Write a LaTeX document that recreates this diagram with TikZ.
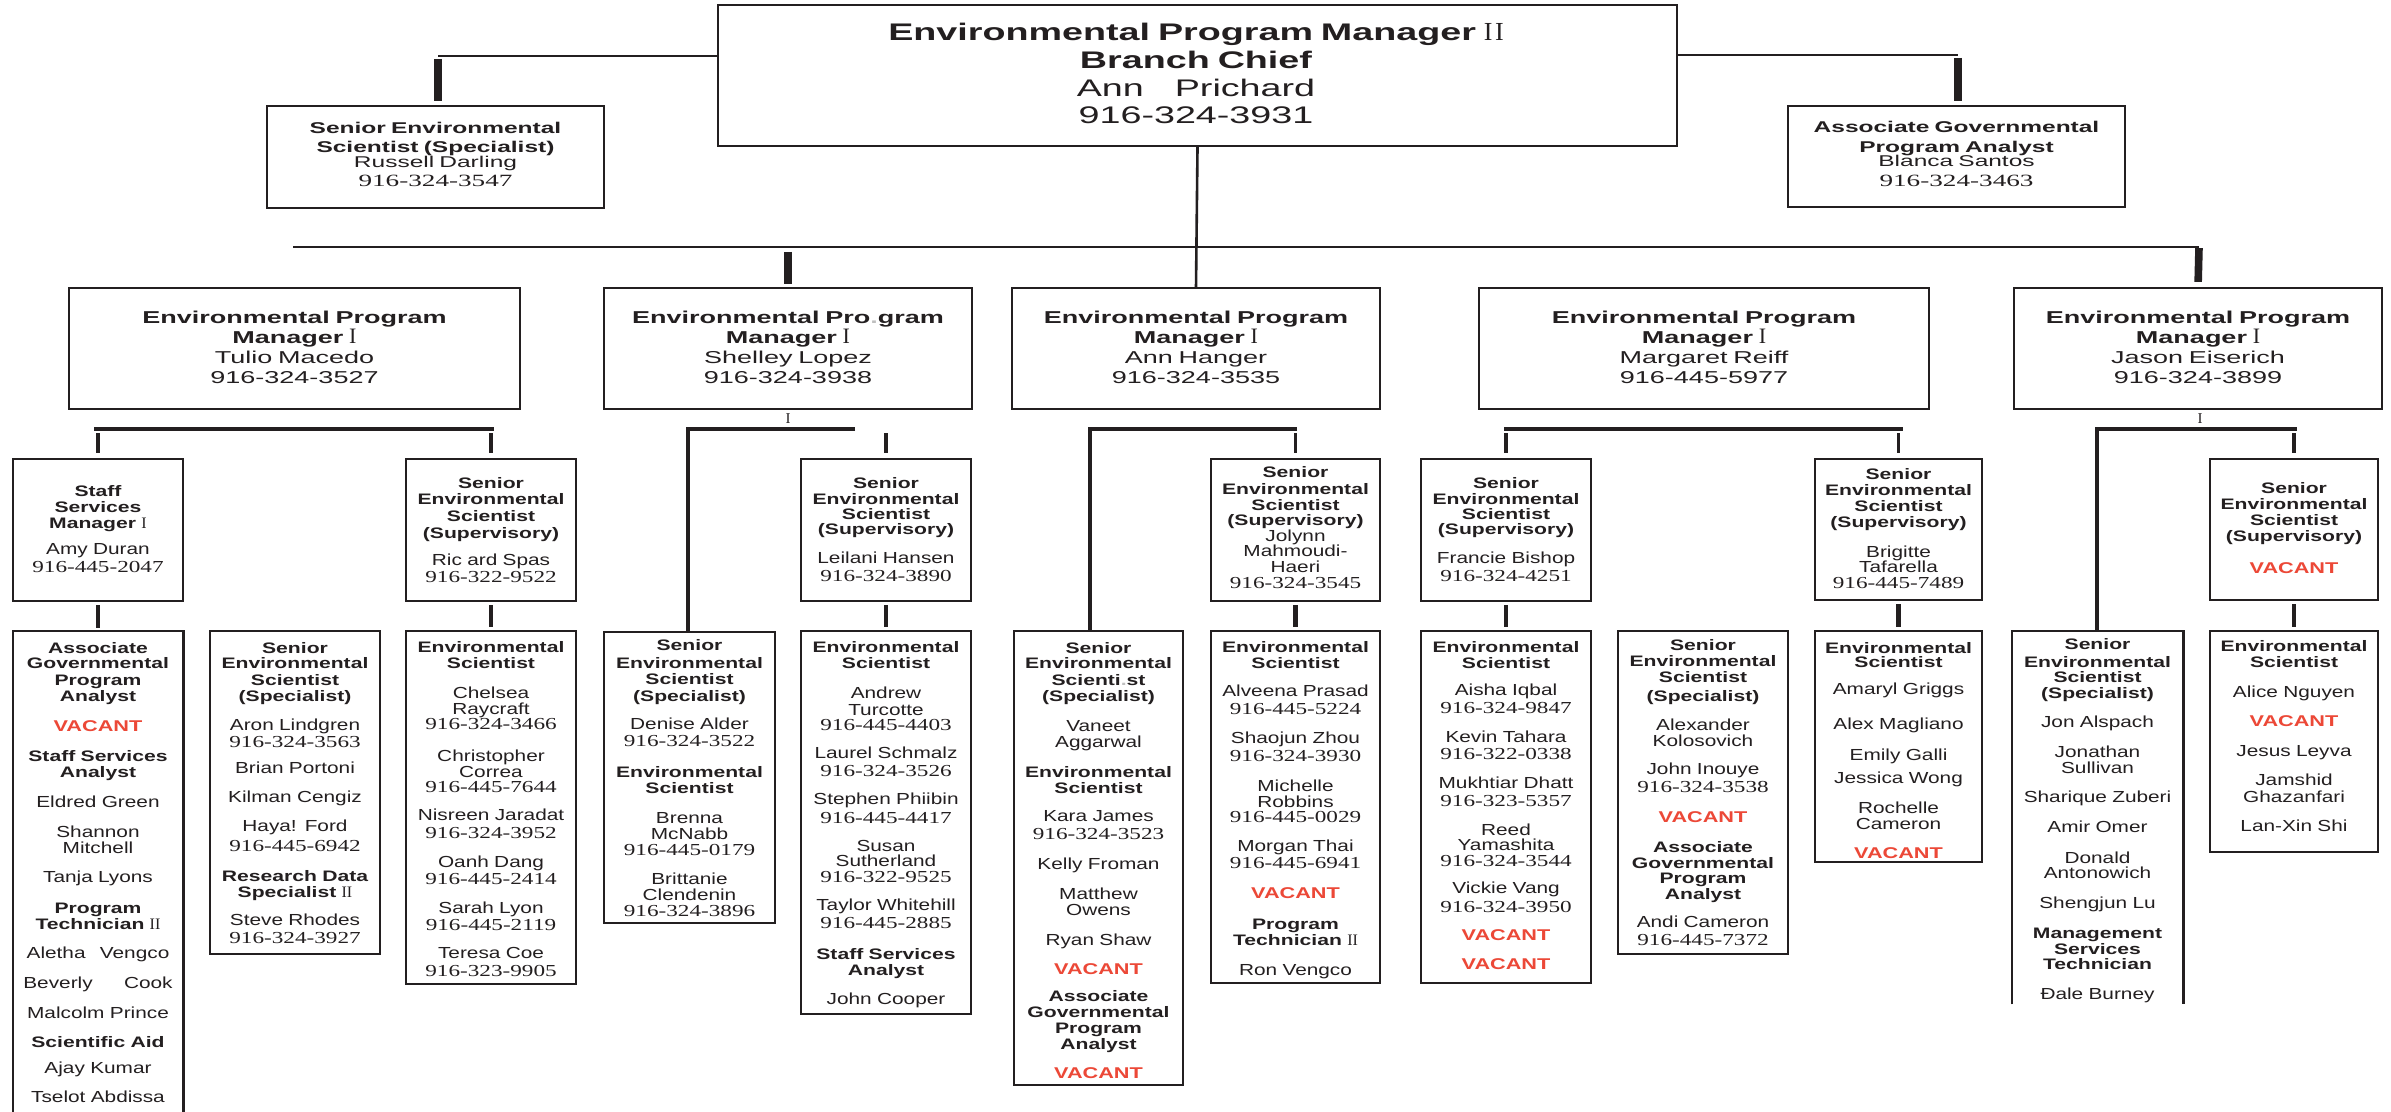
\documentclass[tikz,border=0pt]{standalone}
\usepackage{fontspec}
\setmainfont{Liberation Sans}
\newfontfamily\topsans[FakeStretch=1.57]{Liberation Sans}
\newfontfamily\lowsans[UprightFeatures={FakeStretch=1.30},BoldFeatures={FakeStretch=1.39}]{Liberation Sans}
\newfontfamily\lowserif[FakeStretch=1.38]{Liberation Serif}
\newfontfamily\topserif[FakeStretch=1.58]{Liberation Serif}
\newfontfamily\romfont{Liberation Serif}
\usetikzlibrary{fit}
\definecolor{ink}{RGB}{35,31,32}
\definecolor{vacred}{RGB}{236,72,55}
\newcommand\Ti[1]{{\lowsans\bfseries\fontsize{7.6}{8}\selectfont #1}}
\newcommand\Nm[1]{{\lowsans\fontsize{8}{8}\selectfont #1}}
\newcommand\Ph[1]{{\lowserif\fontsize{8.4}{8}\selectfont #1}}
\newcommand\Rm[1]{{\romfont\fontsize{8}{8}\selectfont #1}}
\newcommand\Vac{{\lowsans\bfseries\fontsize{7.8}{8}\selectfont\color{vacred}VACANT}}
\newcommand\MgrI{{\romfont\fontsize{11}{10}\selectfont I}}
\tikzset{
  bx/.style={draw=ink, line width=1.1pt, inner sep=0pt},
  openbx/.style={draw=none, inner sep=0pt},
  boxline/.style={draw=ink, line width=1.1pt, line join=miter},
  txt/.style={anchor=base, inner sep=0pt, align=center, text=ink, text width=160pt,
    execute at begin node={\lineskiplimit=-20pt}},
  lowfont/.style={font=\fontsize{8}{8}\selectfont},
  mgrfont/.style={font=\topsans\fontsize{8.6}{10}\selectfont, text width=300pt},
  conn/.style={draw=ink, line width=1.3pt},
  dropA/.style={draw=ink, line width=4pt},
  dropB/.style={draw=ink, line width=3.8pt},
  subh/.style={draw=ink, line width=1.6pt},
  longv/.style={draw=ink, line width=1.9pt, line join=miter},
  subdrop/.style={draw=ink, line width=1.8pt, shorten <=2pt, shorten >=2.5pt},
  lowdrop/.style={draw=ink, line width=2.3pt, shorten <=1.5pt, shorten >=1.5pt},
  romI/.style={anchor=base, inner sep=0pt, text=ink, font=\romfont\fontsize{7.5}{8}\selectfont}
}
\begin{document}
\begin{tikzpicture}[x=0.5pt, y=-0.5pt]
\fill[white] (0,0) rectangle (2391,1112);
\useasboundingbox (0,0) rectangle (2391,1112);

% ---------- boxes ----------
\node[bx, fit={(718,5) (1677,146)}] (top) {};
\node[bx, fit={(267,106) (604,208)}] (russ) {};
\node[bx, fit={(1788,106) (2125,207)}] (blanca) {};

\node[bx, fit={(69,288) (520,409)}] (tulio) {};
\node[bx, fit={(604,288) (972,409)}] (shelley) {};
\node[bx, fit={(1012,288) (1380,409)}] (hanger) {};
\node[bx, fit={(1479,288) (1929,409)}] (reiff) {};
\node[bx, fit={(2014,288) (2382,409)}] (jason) {};

\node[bx, fit={(13,459) (183,601)}] (amy) {};
\node[bx, fit={(406,459) (576,601)}] (ric) {};
\node[bx, fit={(801,459) (971,601)}] (leilani) {};
\node[bx, fit={(1211,459) (1380,601)}] (jolynn) {};
\node[bx, fit={(1421,459) (1591,601)}] (francie) {};
\node[bx, fit={(1815,459) (1982,600)}] (brigitte) {};
\node[bx, fit={(2210,459) (2378,600)}] (vacsup) {};

\node[openbx, fit={(13,631) (183,1112)}] (assoc) {};
\draw[boxline] (assoc.south west) -- (assoc.north west) -- (assoc.north east) -- (assoc.south east);
\node[bx, fit={(210,631) (380,954)}] (aron) {};
\node[bx, fit={(406,631) (576,984)}] (chelsea) {};
\node[bx, fit={(604,632) (775,923)}] (denise) {};
\node[bx, fit={(801,631) (971,1014)}] (andrew) {};
\node[bx, fit={(1014,631) (1183,1085)}] (vaneet) {};
\node[bx, fit={(1211,631) (1380,983)}] (alveena) {};
\node[bx, fit={(1421,631) (1591,983)}] (aisha) {};
\node[bx, fit={(1618,631) (1788,954)}] (alex) {};
\node[bx, fit={(1815,631) (1982,862)}] (amaryl) {};
\node[openbx, fit={(2012,631) (2183,1004)}] (jon) {};
\draw[boxline] (jon.south west) -- (jon.north west) -- (jon.north east) -- (jon.south east);
\node[bx, fit={(2210,631) (2378,852)}] (alice) {};

% ---------- connectors ----------
\coordinate (jL) at (438,56);
\coordinate (jR) at (1958,55);
\draw[conn] (top.west |- jL) -- (jL);
\draw[dropA, shorten <=1.5pt, shorten >=2pt] (jL) -- (jL |- russ.north);
\draw[conn] (top.east |- jR) -- (jR);
\draw[dropA, shorten <=1.5pt, shorten >=2pt] (jR) -- (jR |- blanca.north);

\coordinate (hL) at (293,247);
\coordinate (hR) at (2199,247);
\draw[conn] (hL) -- (hR);
\draw[conn] (top.south) -- (hanger.north);
\draw[dropB, shorten <=2.5pt, shorten >=1.5pt] (shelley.north |- hL) -- (shelley.north);
\draw[dropB, shorten <=0.5pt, shorten >=2.5pt] (hR) -- (jason.north);

% Tulio group
\coordinate (t1) at (94,429);
\coordinate (t2) at (494,429);
\draw[subh] (t1) -- (t2);
\draw[subdrop] (amy.north |- t1) -- (amy.north);
\draw[subdrop] (ric.north |- t1) -- (ric.north);
\draw[lowdrop] (amy.south) -- (assoc.north);
\draw[lowdrop] (ric.south) -- (chelsea.north);

% Shelley group
\node[romI] (shI) at (788,423) {I};
\coordinate (s1) at (688,429);
\coordinate (s2) at (855,429);
\draw[longv] (s2) -- (s1) -- (s1 |- denise.north);
\draw[subdrop] (leilani.north |- s1) -- (leilani.north);
\draw[lowdrop] (leilani.south) -- (andrew.north);

% Hanger group
\coordinate (a1) at (1090,429);
\coordinate (a2) at (1297,429);
\draw[longv] (a2) -- (a1) -- (a1 |- vaneet.north);
\draw[subdrop] (jolynn.north |- a1) -- (jolynn.north);
\draw[lowdrop] (jolynn.south) -- (alveena.north);

% Reiff group
\coordinate (r1) at (1504,429);
\coordinate (r2) at (1903,429);
\draw[subh] (r1) -- (r2);
\draw[subdrop] (francie.north |- r1) -- (francie.north);
\draw[subdrop] (brigitte.north |- r1) -- (brigitte.north);
\draw[lowdrop] (francie.south) -- (aisha.north);
\draw[lowdrop] (brigitte.south) -- (amaryl.north);

% Jason group
\node[romI] (jaI) at (2200,423) {I};
\coordinate (q1) at (2097,429);
\coordinate (q2) at (2297,429);
\draw[longv] (q2) -- (q1) -- (q1 |- jon.north);
\draw[subdrop] (vacsup.north |- q1) -- (vacsup.north);
\draw[lowdrop] (vacsup.south) -- (alice.north);

% ---------- texts: top levels ----------
\node[txt, text width=600pt, font=\topsans\fontsize{12}{14}\selectfont] (topT) at (1196,41)
 {\textbf{Environmental Program Manager}\hspace{4pt}{\romfont\fontsize{13}{14}\selectfont I\kern1.2pt I}\\
  \textbf{Branch Chief}\\
  Ann\hspace{11.5pt} Prichard\\[-0.5pt]
  916-324-3931};
\node[txt, text width=220pt, font=\topsans\fontsize{7.8}{8}\selectfont] (russT) at (435.5,134)
 {\textbf{Senior Environmental}\\[1.5pt] \textbf{Scientist (Specialist)}\\[-0.5pt] Russell Darling\\[1.5pt]
  {\topserif\fontsize{8.6}{8}\selectfont 916-324-3547}};
\node[txt, text width=220pt, font=\topsans\fontsize{7.8}{8}\selectfont] (blancaT) at (1956.5,133)
 {\textbf{Associate Governmental}\\[2pt] \textbf{Program Analyst}\\[-1pt] Blanca Santos\\[2pt]
  {\topserif\fontsize{8.6}{8}\selectfont 916-324-3463}};

\node[txt, mgrfont] (tulioT) at (294.5,324)
 {\textbf{Environmental Program}\\[-0.5pt] \textbf{Manager} \MgrI\\[0.5pt] Tulio Macedo\\ 916-324-3527};
\node[txt, mgrfont] (shelleyT) at (788,324)
 {\textbf{Environmental Pro{\color{lightgray}.}gram}\\[-0.5pt] \textbf{Manager} \MgrI\\[0.5pt] Shelley Lopez\\ 916-324-3938};
\node[txt, mgrfont] (hangerT) at (1196,324)
 {\textbf{Environmental Program}\\[-0.5pt] \textbf{Manager} \MgrI\\[0.5pt] Ann Hanger\\ 916-324-3535};
\node[txt, mgrfont] (reiffT) at (1704,324)
 {\textbf{Environmental Program}\\[-0.5pt] \textbf{Manager} \MgrI\\[0.5pt] Margaret Reiff\\ 916-445-5977};
\node[txt, mgrfont] (jasonT) at (2198,324)
 {\textbf{Environmental Program}\\[-0.5pt] \textbf{Manager} \MgrI\\[0.5pt] Jason Eiserich\\ 916-324-3899};

% ---------- texts: supervisors ----------
\node[txt, lowfont] (amyT) at (98,496)
 {\Ti{Staff}\\ \Ti{Services}\\ \Ti{Manager} \Rm{I}\\[5pt] \Nm{Amy Duran}\\[1pt] \Ph{916-445-2047}};
\node[txt, lowfont] (ricT) at (491,488)
 {\Ti{Senior}\\ \Ti{Environmental}\\[0.5pt] \Ti{Scientist}\\[0.5pt] \Ti{(Supervisory)}\\[5.5pt] \Nm{Ric ard Spas}\\[0.5pt] \Ph{916-322-9522}};
\node[txt, lowfont] (leilaniT) at (886,488)
 {\Ti{Senior}\\ \Ti{Environmental}\\[-0.5pt] \Ti{Scientist}\\[-0.5pt] \Ti{(Supervisory)}\\[6.5pt] \Nm{Leilani Hansen}\\[1pt] \Ph{916-324-3890}};
\node[txt, lowfont] (jolynnT) at (1295.5,477)
 {\Ti{Senior}\\[0.5pt] \Ti{Environmental}\\ \Ti{Scientist}\\[-0.5pt] \Ti{(Supervisory)}\\ \Nm{Jolynn}\\[-0.5pt] \Nm{Mahmoudi-}\\ \Nm{Haeri}\\ \Ph{916-324-3545}};
\node[txt, lowfont] (francieT) at (1506,488)
 {\Ti{Senior}\\ \Ti{Environmental}\\[-0.5pt] \Ti{Scientist}\\[-0.5pt] \Ti{(Supervisory)}\\[6.5pt] \Nm{Francie Bishop}\\[1pt] \Ph{916-324-4251}};
\node[txt, lowfont] (brigitteT) at (1898.5,479)
 {\Ti{Senior}\\ \Ti{Environmental}\\ \Ti{Scientist}\\ \Ti{(Supervisory)}\\[7pt] \Nm{Brigitte}\\[-0.5pt] \Nm{Tafarella}\\ \Ph{916-445-7489}};
\node[txt, lowfont] (vacsupT) at (2294,493)
 {\Ti{Senior}\\ \Ti{Environmental}\\ \Ti{Scientist}\\ \Ti{(Supervisory)}\\[8pt] \Vac};

% ---------- texts: staff ----------
\node[txt, lowfont] (assocT) at (98,653)
 {\Ti{Associate}\\[-0.5pt] \Ti{Governmental}\\[0.5pt] \Ti{Program}\\ \Ti{Analyst}\\[7pt] \Vac\\[7pt]
  \Ti{Staff Services}\\ \Ti{Analyst}\\[7pt] \Nm{Eldred Green}\\[7pt] \Nm{Shannon}\\ \Nm{Mitchell}\\[6.5pt]
  \Nm{Tanja Lyons}\\[7.5pt] \Ti{Program}\\ \Ti{Technician} \Rm{II}\\[6.5pt] \Nm{Aletha\hspace{4.5pt} Vengco}\\[7pt]
  \Nm{Beverly\hspace{13pt} Cook}\\[7pt] \Nm{Malcolm Prince}\\[6.5pt] \Ti{Scientific Aid}\\[5pt] \Nm{Ajay Kumar}\\[6.5pt]
  \Nm{Tselot Abdissa}};
\node[txt, lowfont] (aronT) at (295,653)
 {\Ti{Senior}\\[-0.5pt] \Ti{Environmental}\\[0.5pt] \Ti{Scientist}\\ \Ti{(Specialist)}\\[6.5pt] \Nm{Aron Lindgren}\\[0.5pt]
  \Ph{916-324-3563}\\[5pt] \Nm{Brian Portoni}\\[6.5pt] \Nm{Kilman Cengiz}\\[6.5pt] \Nm{Haya! Ford}\\[2pt]
  \Ph{916-445-6942}\\[7pt] \Ti{Research Data}\\ \Ti{Specialist} \Rm{II}\\[6pt] \Nm{Steve Rhodes}\\[1pt] \Ph{916-324-3927}};
\node[txt, lowfont] (chelseaT) at (491,652)
 {\Ti{Environmental}\\ \Ti{Scientist}\\[7pt] \Nm{Chelsea}\\ \Nm{Raycraft}\\[-0.5pt] \Ph{916-324-3466}\\[8pt]
  \Nm{Christopher}\\ \Nm{Correa}\\[-0.5pt] \Ph{916-445-7644}\\[6pt] \Nm{Nisreen Jaradat}\\[1pt] \Ph{916-324-3952}\\[6.5pt]
  \Nm{Oanh Dang}\\[0.5pt] \Ph{916-445-2414}\\[6.5pt] \Nm{Sarah Lyon}\\[0.5pt] \Ph{916-445-2119}\\[6pt]
  \Nm{Teresa Coe}\\[1pt] \Ph{916-323-9905}};
\node[txt, lowfont] (deniseT) at (689.5,650)
 {\Ti{Senior}\\[1pt] \Ti{Environmental}\\ \Ti{Scientist}\\[0.5pt] \Ti{(Specialist)}\\[6pt] \Nm{Denise Alder}\\[0.5pt]
  \Ph{916-324-3522}\\[7.5pt] \Ti{Environmental}\\ \Ti{Scientist}\\[7pt] \Nm{Brenna}\\ \Nm{McNabb}\\ \Ph{916-445-0179}\\[6.5pt]
  \Nm{Brittanie}\\ \Nm{Clendenin}\\ \Ph{916-324-3896}};
\node[txt, lowfont] (andrewT) at (886,652)
 {\Ti{Environmental}\\ \Ti{Scientist}\\[7pt] \Nm{Andrew}\\[0.5pt] \Nm{Turcotte}\\[-0.5pt] \Ph{916-445-4403}\\[6pt]
  \Nm{Laurel Schmalz}\\[1pt] \Ph{916-324-3526}\\[6pt] \Nm{Stephen Phiibin}\\[1.5pt] \Ph{916-445-4417}\\[6pt]
  \Nm{Susan}\\[-0.5pt] \Nm{Sutherland}\\ \Ph{916-322-9525}\\[6pt] \Nm{Taylor Whitehill}\\[1pt] \Ph{916-445-2885}\\[7.5pt]
  \Ti{Staff Services}\\ \Ti{Analyst}\\[6.5pt] \Nm{John Cooper}};
\node[txt, lowfont] (vaneetT) at (1098.5,653)
 {\Ti{Senior}\\[-0.5pt] \Ti{Environmental}\\[0.5pt] \Ti{Scienti{\color{lightgray}.}st}\\ \Ti{(Specialist)}\\[7pt]
  \Nm{Vaneet}\\ \Nm{Aggarwal}\\[7pt] \Ti{Environmental}\\ \Ti{Scientist}\\[6pt] \Nm{Kara James}\\[1pt] \Ph{916-324-3523}\\[7pt]
  \Nm{Kelly Froman}\\[7pt] \Nm{Matthew}\\ \Nm{Owens}\\[7pt] \Nm{Ryan Shaw}\\[6.5pt] \Vac\\[5.5pt]
  \Ti{Associate}\\ \Ti{Governmental}\\ \Ti{Program}\\ \Ti{Analyst}\\[6.5pt] \Vac};
\node[txt, lowfont] (alveenaT) at (1295.5,652)
 {\Ti{Environmental}\\ \Ti{Scientist}\\[6pt] \Nm{Alveena Prasad}\\[1pt] \Ph{916-445-5224}\\[6.5pt] \Nm{Shaojun Zhou}\\[1pt]
  \Ph{916-324-3930}\\[7pt] \Nm{Michelle}\\ \Nm{Robbins}\\[-0.5pt] \Ph{916-445-0029}\\[6.5pt] \Nm{Morgan Thai}\\[0.5pt]
  \Ph{916-445-6941}\\[7pt] \Vac\\[7.5pt] \Ti{Program}\\ \Ti{Technician} \Rm{II}\\[7pt] \Nm{Ron Vengco}};
\node[txt, lowfont] (aishaT) at (1506,652)
 {\Ti{Environmental}\\ \Ti{Scientist}\\[5.5pt] \Nm{Aisha Iqbal}\\[1pt] \Ph{916-324-9847}\\[6.5pt] \Nm{Kevin Tahara}\\[0.5pt]
  \Ph{916-322-0338}\\[6.5pt] \Nm{Mukhtiar Dhatt}\\[1pt] \Ph{916-323-5357}\\[6.5pt] \Nm{Reed}\\[-0.5pt] \Nm{Yamashita}\\
  \Ph{916-324-3544}\\[5.5pt] \Nm{Vickie Vang}\\[1.5pt] \Ph{916-324-3950}\\[6pt] \Vac\\[6.5pt] \Vac};
\node[txt, lowfont] (alexT) at (1703,650)
 {\Ti{Senior}\\ \Ti{Environmental}\\ \Ti{Scientist}\\[1.5pt] \Ti{(Specialist)}\\[6.5pt] \Nm{Alexander}\\ \Nm{Kolosovich}\\[6pt]
  \Nm{John Inouye}\\[1pt] \Ph{916-324-3538}\\[7pt] \Vac\\[7pt] \Ti{Associate}\\ \Ti{Governmental}\\[-0.5pt] \Ti{Program}\\
  \Ti{Analyst}\\[6pt] \Nm{Andi Cameron}\\[1pt] \Ph{916-445-7372}};
\node[txt, lowfont] (amarylT) at (1898.5,653)
 {\Ti{Environmental}\\[-1pt] \Ti{Scientist}\\[5.5pt] \Nm{Amaryl Griggs}\\[9.5pt] \Nm{Alex Magliano}\\[7.5pt]
  \Nm{Emily Galli}\\[3.5pt] \Nm{Jessica Wong}\\[7pt] \Nm{Rochelle}\\ \Nm{Cameron}\\[6.5pt] \Vac};
\node[txt, lowfont] (jonT) at (2097.5,649)
 {\Ti{Senior}\\[1pt] \Ti{Environmental}\\[-0.5pt] \Ti{Scientist}\\ \Ti{(Specialist)}\\[6.5pt] \Nm{Jon Alspach}\\[7pt]
  \Nm{Jonathan}\\ \Nm{Sullivan}\\[6.5pt] \Nm{Sharique Zuberi}\\[7pt] \Nm{Amir Omer}\\[7.5pt] \Nm{Donald}\\[-0.5pt]
  \Nm{Antonowich}\\[7pt] \Nm{Shengjun Lu}\\[7pt] \Ti{Management}\\ \Ti{Services}\\[-0.5pt] \Ti{Technician}\\[7pt]
  \Nm{Đale Burney}};
\node[txt, lowfont] (aliceT) at (2294,651)
 {\Ti{Environmental}\\ \Ti{Scientist}\\[7pt] \Nm{Alice Nguyen}\\[6.5pt] \Vac\\[7pt] \Nm{Jesus Leyva}\\[6.5pt]
  \Nm{Jamshid}\\[0.5pt] \Nm{Ghazanfari}\\[6.5pt] \Nm{Lan-Xin Shi}};
\end{tikzpicture}
\end{document}
